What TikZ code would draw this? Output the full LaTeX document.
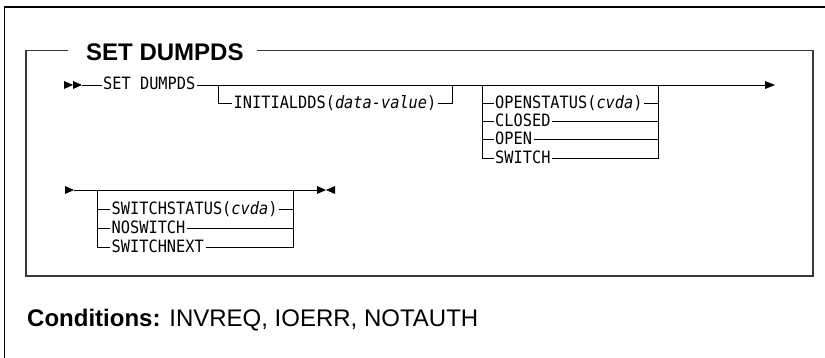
\documentclass[tikz,border=0pt]{standalone}
\usepackage{fontspec}
\setmainfont{Liberation Sans}
\newfontfamily\synfont[FakeStretch=0.9]{DejaVu Sans Mono}
\begin{document}
\begin{tikzpicture}[x=1pt,y=-1pt,
  syn/.style={font=\synfont\fontsize{17}{20}\selectfont, inner xsep=1.5pt, inner ysep=0pt, text height=10pt, text depth=0pt, anchor=west},
  synline/.style={line width=0.9pt},
  framebox/.style={line width=1.5pt, draw={rgb,255:red,55;green,55;blue,55}},
  bigtext/.style={font=\fontsize{24}{28}\selectfont, anchor=base west, inner sep=0pt}]
\useasboundingbox (0,0) rectangle (825,358);

% outer frame
\draw[line width=1.3pt] (4.5,358) -- (4.5,7) -- (825,7);

% title and inner box
\node[bigtext, font=\bfseries\fontsize{24}{28}\selectfont] (title) at (86,61) {SET DUMPDS};
\draw[framebox] (68,50.5) -- (26,50.5) -- (26,276) -- (813,276) -- (813,50.5) -- (257,50.5);

% ---------- row 1 ----------
\fill (64,81) -- (73,85) -- (64,89) -- cycle;
\fill (73,81) -- (82,85) -- (73,89) -- cycle;
\coordinate (r1s) at (82,85);
\node[syn] (setd) at (101.5,85) {SET DUMPDS};
\coordinate (e1) at (766,85);
\draw[synline] (r1s) -- (setd.west);
\draw[synline] (setd.east) -- (e1);
\fill (765,81) -- (775,85) -- (765,89) -- cycle;

% INITIALDDS optional branch
\coordinate (b1l) at (218,85);
\coordinate (b1r) at (452,85);
\node[syn] (initd) at (232,103.3) {INITIALDDS(\textit{data-value})};
\draw[synline] (b1l) |- (initd.west);
\draw[synline] (initd.east) -| (b1r);

% OPENSTATUS group
\coordinate (gal) at (482,85);
\coordinate (gar) at (658,85);
\node[syn] (a1) at (493.5,103.3) {OPENSTATUS(\textit{cvda})};
\node[syn] (a2) at (493.5,121.6) {CLOSED};
\node[syn] (a3) at (493.5,139.9) {OPEN};
\node[syn] (a4) at (493.5,158.2) {SWITCH};
\draw[synline] (gal) |- (a4.west);
\draw[synline] (gar) |- (a4.east);
\foreach \n in {a1,a2,a3} {
  \draw[synline] (gal |- \n.west) -- (\n.west);
  \draw[synline] (\n.east) -- (gar |- \n.east);
}

% ---------- row 2 ----------
\fill (65,186) -- (74,190) -- (65,194) -- cycle;
\coordinate (r2s) at (74,190);
\coordinate (e2) at (317,190);
\draw[synline] (r2s) -- (e2);
\fill (317,186) -- (326,190) -- (317,194) -- cycle;
\fill (335,186) -- (326,190) -- (335,194) -- cycle;

\coordinate (gbl) at (97,190);
\coordinate (gbr) at (293,190);
\node[syn] (c1) at (110,209.3) {SWITCHSTATUS(\textit{cvda})};
\node[syn] (c2) at (110,228.4) {NOSWITCH};
\node[syn] (c3) at (110,247.6) {SWITCHNEXT};
\draw[synline] (gbl) |- (c3.west);
\draw[synline] (gbr) |- (c3.east);
\foreach \n in {c1,c2} {
  \draw[synline] (gbl |- \n.west) -- (\n.west);
  \draw[synline] (\n.east) -- (gbr |- \n.east);
}

% conditions
\node[bigtext] (cond) at (27,326) {\textbf{Conditions:} INVREQ, IOERR, NOTAUTH};
\end{tikzpicture}
\end{document}
